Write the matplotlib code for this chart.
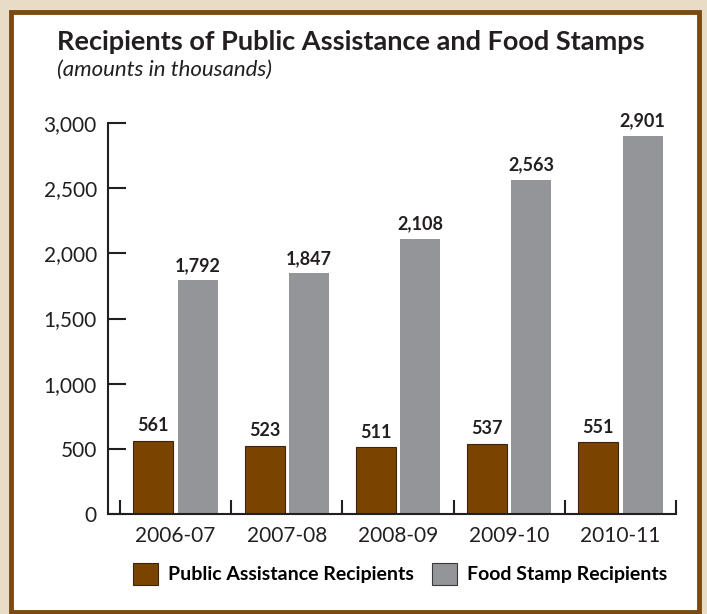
import matplotlib.pyplot as plt
import matplotlib.patches as mpatches
from matplotlib.ticker import FuncFormatter
import numpy as np

years = ['2006-07', '2007-08', '2008-09', '2009-10', '2010-11']
public_assistance = [561, 523, 511, 537, 551]
food_stamps = [1792, 1847, 2108, 2563, 2901]
yticks = [0, 500, 1000, 1500, 2000, 2500, 3000]

brown = '#7A4400'
gray = '#939598'
ink = '#231F20'

plt.rcParams['font.family'] = ['Lato', 'DejaVu Sans']

fig = plt.figure(figsize=(7.07, 6.14), dpi=100)
fig.patch.set_facecolor('#E9DCC6')

# white panel with brown frame
panel = mpatches.Rectangle((11 / 707, 1 - 612 / 614), 688 / 707, 600 / 614,
                           transform=fig.transFigure, facecolor='white',
                           edgecolor='#7A4A12', linewidth=3.5, zorder=-1)
fig.patches.append(panel)

ax = fig.add_axes([108 / 707, 1 - 514 / 614, 568 / 707, 391 / 614])
ax.set_facecolor('none')

x = np.arange(len(years))
w = 0.36
b1 = ax.bar(x - 0.2, public_assistance, w, color=brown, edgecolor='#3A2510', linewidth=0.8)
b2 = ax.bar(x + 0.2, food_stamps, w, color=gray, edgecolor='none')

for rect, v in list(zip(b1, public_assistance)) + list(zip(b2, food_stamps)):
    ax.text(rect.get_x() + rect.get_width() / 2, v + 50, f'{v:,}',
            ha='center', va='bottom', fontsize=13, fontweight='bold', color=ink)

ax.set_xlim(-0.608, 4.5)
ax.set_ylim(0, 3000)
ax.set_yticks(yticks)
ax.yaxis.set_major_formatter(FuncFormatter(lambda v, p: f'{int(v):,}'))
ax.set_xticks(x)
ax.set_xticklabels(years)
ax.set_xticks(np.arange(-0.5, 5, 1), minor=True)

for s in ['top', 'right']:
    ax.spines[s].set_visible(False)
for s in ['left', 'bottom']:
    ax.spines[s].set_linewidth(1.5)
    ax.spines[s].set_color(ink)

ax.tick_params(axis='y', direction='in', length=13, width=1.5, colors=ink,
               labelsize=15, pad=8)
ax.tick_params(axis='x', which='major', length=0, labelsize=15, colors=ink, pad=9)
ax.tick_params(axis='x', which='minor', direction='in', length=10, width=1.5, color=ink)

fig.text(57 / 707, 1 - 42 / 614, 'Recipients of Public Assistance and Food Stamps',
         fontsize=19.5, fontweight='bold', color=ink, va='center')
fig.text(57 / 707, 1 - 70 / 614, '(amounts in thousands)',
         fontsize=16, style='italic', color=ink, va='center')

handles = [mpatches.Patch(facecolor=brown, edgecolor='#3A2510', linewidth=0.8),
           mpatches.Patch(facecolor=gray, edgecolor='#3A3A3A', linewidth=0.8)]
fig.legend(handles, ['Public Assistance Recipients', 'Food Stamp Recipients'],
           loc='center', bbox_to_anchor=(400 / 707, 1 - 574 / 614), ncol=2,
           frameon=False, prop={'weight': 'bold', 'size': 14},
           handlelength=1.3, handleheight=1.4, handletextpad=0.5, columnspacing=0.9)

fig.savefig('out.png', dpi=100, facecolor=fig.get_facecolor())
